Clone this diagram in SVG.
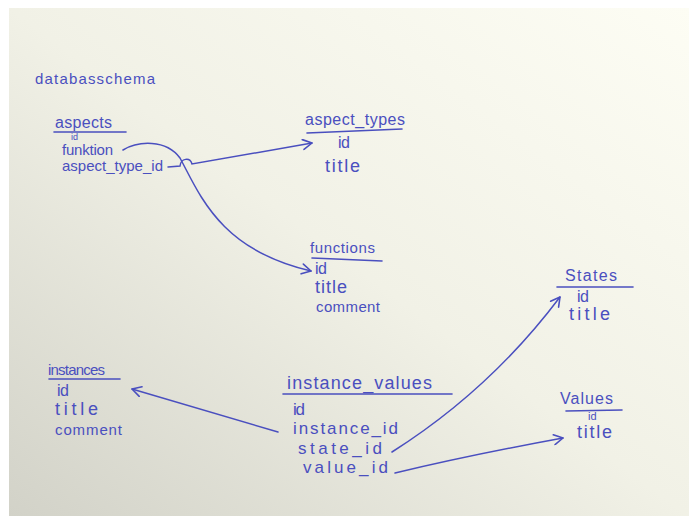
<svg xmlns="http://www.w3.org/2000/svg" width="694" height="522" viewBox="0 0 694 522">
<defs>
<linearGradient id="paper" x1="1" y1="0" x2="0" y2="1">
<stop offset="0" stop-color="#fdfdf4"/>
<stop offset="0.5" stop-color="#f1f1e6"/>
<stop offset="1" stop-color="#d2d2c8"/>
</linearGradient>
<marker id="arr" viewBox="0 0 12 12" refX="11" refY="6" markerWidth="12" markerHeight="12" markerUnits="userSpaceOnUse" orient="auto">
<path d="M2,1 L11,6 L2,11" fill="none" stroke="#4a4fbf" stroke-width="1.6" stroke-linecap="round" stroke-linejoin="round"/>
</marker>
<style>
text{font-family:"Liberation Sans","DejaVu Sans",sans-serif;fill:#4a4fbf;}
.t{font-size:16px;}
.f{font-size:15px;}
.ti{font-size:18px;}
.u{stroke:#4a4fbf;stroke-width:1.6;fill:none;stroke-linecap:round;}
.c{stroke:#4a4fbf;stroke-width:1.5;fill:none;stroke-linecap:round;}
</style>
</defs>
<rect x="0" y="0" width="694" height="522" fill="#ffffff"/>
<rect x="9" y="8" width="680" height="508" fill="url(#paper)"/>

<text x="35" y="84" font-size="15" textLength="120" lengthAdjust="spacing">databasschema</text>

<g id="aspects">
<text class="t" x="55" y="128" textLength="57" lengthAdjust="spacing">aspects</text>
<line class="u" x1="54" y1="132" x2="126" y2="132"/>
<text x="71" y="140" font-size="9">id</text>
<text class="f" x="62" y="155" textLength="51" lengthAdjust="spacing">funktion</text>
<text class="f" x="62" y="171" textLength="101" lengthAdjust="spacing">aspect_type_id</text>
</g>

<g id="aspect_types">
<text class="t" x="305" y="125" textLength="100" lengthAdjust="spacing">aspect_types</text>
<line class="u" x1="307" y1="133" x2="402" y2="129"/>
<text class="t" x="338" y="148" textLength="12" lengthAdjust="spacing">id</text>
<text class="ti" x="325" y="172" textLength="35" lengthAdjust="spacing">title</text>
</g>

<g id="functions">
<text class="f" x="310" y="253" textLength="65" lengthAdjust="spacing">functions</text>
<line class="u" x1="312" y1="258" x2="382" y2="261"/>
<text class="t" x="315" y="274" textLength="12" lengthAdjust="spacing">id</text>
<text class="ti" x="315" y="293" textLength="32" lengthAdjust="spacing">title</text>
<text class="f" x="316" y="312" textLength="64" lengthAdjust="spacing">comment</text>
</g>

<g id="instances">
<text class="f" x="48" y="375" textLength="57" lengthAdjust="spacing">instances</text>
<line class="u" x1="49" y1="379" x2="120" y2="379"/>
<text class="t" x="57" y="396" textLength="12" lengthAdjust="spacing">id</text>
<text class="ti" x="55" y="415" textLength="43" lengthAdjust="spacing">title</text>
<text class="f" x="55" y="435" textLength="67" lengthAdjust="spacing">comment</text>
</g>

<g id="instance_values">
<text x="287" y="389" font-size="18" textLength="145" lengthAdjust="spacing">instance_values</text>
<line class="u" x1="283" y1="394" x2="452" y2="394"/>
<text x="293" y="415" font-size="17" textLength="12" lengthAdjust="spacing">id</text>
<text x="293" y="434" font-size="17" textLength="105" lengthAdjust="spacing">instance_id</text>
<text x="298" y="454" font-size="17" textLength="84" lengthAdjust="spacing">state_id</text>
<text x="303" y="473" font-size="17" textLength="85" lengthAdjust="spacing">value_id</text>
</g>

<g id="states">
<text class="t" x="565" y="281" textLength="52" lengthAdjust="spacing">States</text>
<line class="u" x1="557" y1="287" x2="633" y2="287"/>
<text class="t" x="577" y="302" textLength="12" lengthAdjust="spacing">id</text>
<text class="ti" x="569" y="320" textLength="41" lengthAdjust="spacing">title</text>
</g>

<g id="values">
<text class="t" x="560" y="404" textLength="53" lengthAdjust="spacing">Values</text>
<line class="u" x1="566" y1="411" x2="622" y2="410"/>
<text x="588" y="420" font-size="11">id</text>
<text class="ti" x="577" y="438" textLength="35" lengthAdjust="spacing">title</text>
</g>

<g id="connectors">
<path class="c" d="M123,150 C138,141 166,139 180,158 C200,195 220,250 311,271" marker-end="url(#arr)"/>
<path class="c" d="M168,167 L180,166 C181,158 190,157 192,164 L312,143" marker-end="url(#arr)"/>
<path class="c" d="M278,432 L132,389" marker-end="url(#arr)"/>
<path class="c" d="M392,452 Q490,390 560,297" marker-end="url(#arr)"/>
<path class="c" d="M395,473 Q470,455 563,438" marker-end="url(#arr)"/>
</g>
</svg>
